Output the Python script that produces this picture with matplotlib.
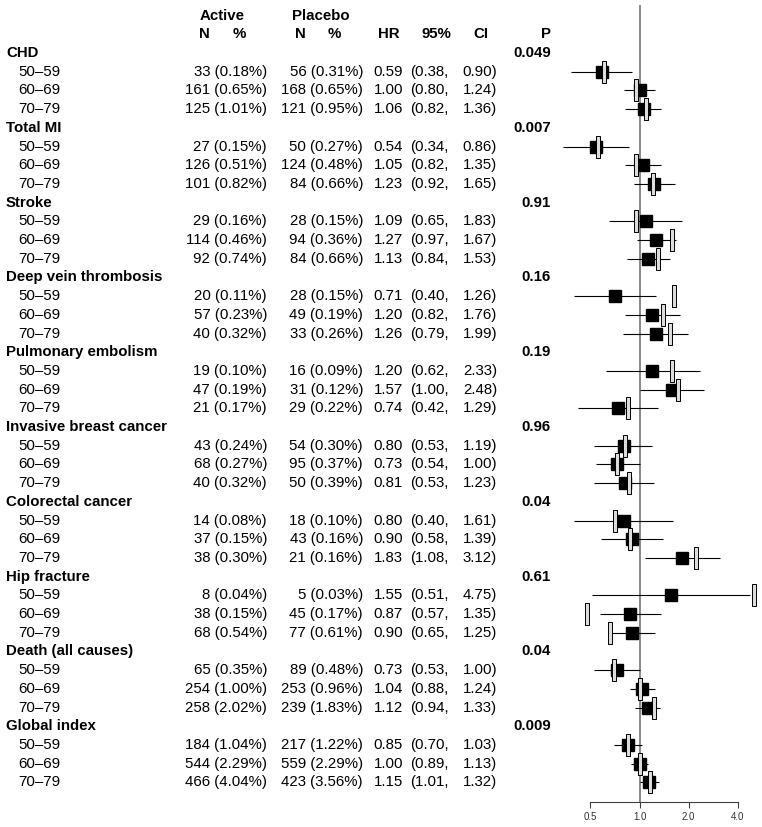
import matplotlib
matplotlib.use("Agg")
import matplotlib.pyplot as plt
import numpy as np
from matplotlib.path import Path
from matplotlib.ticker import FixedLocator, NullLocator

plt.rcParams["font.family"] = ["Liberation Sans", "DejaVu Sans"]

groups = ["CHD", "Total MI", "Stroke", "Deep vein thrombosis", "Pulmonary embolism",
          "Invasive breast cancer", "Colorectal cancer", "Hip fracture",
          "Death (all causes)", "Global index"]
ages = ["50–59", "60–69", "70–79"]
p_values = ["0.049", "0.007", "0.91", "0.16", "0.19", "0.96", "0.04", "0.61", "0.04", "0.009"]

active_n = [33, 161, 125, 27, 126, 101, 29, 114, 92, 20, 57, 40, 19, 47, 21,
            43, 68, 40, 14, 37, 38, 8, 38, 68, 65, 254, 258, 184, 544, 466]
active_pct = [0.18, 0.65, 1.01, 0.15, 0.51, 0.82, 0.16, 0.46, 0.74, 0.11, 0.23, 0.32,
              0.10, 0.19, 0.17, 0.24, 0.27, 0.32, 0.08, 0.15, 0.30, 0.04, 0.15, 0.54,
              0.35, 1.00, 2.02, 1.04, 2.29, 4.04]
placebo_n = [56, 168, 121, 50, 124, 84, 28, 94, 84, 28, 49, 33, 16, 31, 29,
             54, 95, 50, 18, 43, 21, 5, 45, 77, 89, 253, 239, 217, 559, 423]
placebo_pct = [0.31, 0.65, 0.95, 0.27, 0.48, 0.66, 0.15, 0.36, 0.66, 0.15, 0.19, 0.26,
               0.09, 0.12, 0.22, 0.30, 0.37, 0.39, 0.10, 0.16, 0.16, 0.03, 0.17, 0.61,
               0.48, 0.96, 1.83, 1.22, 2.29, 3.56]
hr = [0.59, 1.00, 1.06, 0.54, 1.05, 1.23, 1.09, 1.27, 1.13, 0.71, 1.20, 1.26,
      1.20, 1.57, 0.74, 0.80, 0.73, 0.81, 0.80, 0.90, 1.83, 1.55, 0.87, 0.90,
      0.73, 1.04, 1.12, 0.85, 1.00, 1.15]
ci_lo = [0.38, 0.80, 0.82, 0.34, 0.82, 0.92, 0.65, 0.97, 0.84, 0.40, 0.82, 0.79,
         0.62, 1.00, 0.42, 0.53, 0.54, 0.53, 0.40, 0.58, 1.08, 0.51, 0.57, 0.65,
         0.53, 0.88, 0.94, 0.70, 0.89, 1.01]
ci_hi = [0.90, 1.24, 1.36, 0.86, 1.35, 1.65, 1.83, 1.67, 1.53, 1.26, 1.76, 1.99,
         2.33, 2.48, 1.29, 1.19, 1.00, 1.23, 1.61, 1.39, 3.12, 4.75, 1.35, 1.25,
         1.00, 1.24, 1.33, 1.03, 1.13, 1.32]
# open bars (comparison estimate)
ref_est = [0.61, 0.95, 1.09, 0.56, 0.955, 1.21, 0.955, 1.57, 1.29, 1.63, 1.40, 1.53,
           1.57, 1.71, 0.85, 0.82, 0.73, 0.86, 0.71, 0.87, 2.23, 5.0, 0.477, 0.66,
           0.70, 1.01, 1.22, 0.848, 1.00, 1.16]
x_ticks = [0.5, 1.0, 2.0, 4.0]
x_ticklabels = ["0.5", "1.0", "2.0", "4.0"]

W, H = 762, 827
ROW0, DY = 53.0, 18.7            # pixel y of first group row, row pitch
def prow(py):
    return (py - ROW0) / DY
YTOP, YBOT = prow(0), prow(H)
FS = 10.8

fig = plt.figure(figsize=(W / 100, H / 100), dpi=100)

# ---- table part
tab = fig.add_axes([0, 0, 1, 1])
tab.set_xlim(0, W); tab.set_ylim(YBOT, YTOP); tab.axis("off")

hdr = dict(fontsize=FS, fontweight="bold", va="center")
tab.text(222.5, -2, "Active", ha="center", **hdr)
tab.text(321, -2, "Placebo", ha="center", **hdr)
tab.text(204, -1, "N", ha="center", **hdr)
tab.text(239, -1, "%", ha="center", **hdr)
tab.text(300, -1, "N", ha="center", **hdr)
tab.text(334, -1, "%", ha="center", **hdr)
tab.text(389, -1, "HR", ha="center", **hdr)
tab.text(436, -1, "95%", ha="center", **hdr)
tab.text(481, -1, "CI", ha="center", **hdr)
tab.text(551, -1, "P", ha="right", **hdr)

rows = []
for gi, g in enumerate(groups):
    r0 = 4 * gi
    tab.text(6, r0, g, ha="left", **hdr)
    tab.text(551, r0, p_values[gi], ha="right", **hdr)
    for ai, a in enumerate(ages):
        k = 3 * gi + ai
        r = r0 + 1 + ai
        rows.append(r)
        kw = dict(fontsize=FS, va="center")
        tab.text(18, r, a, ha="left", **kw)
        tab.text(267, r, f"{active_n[k]} ({active_pct[k]:.2f}%)", ha="right", **kw)
        tab.text(363, r, f"{placebo_n[k]} ({placebo_pct[k]:.2f}%)", ha="right", **kw)
        tab.text(403, r, f"{hr[k]:.2f}", ha="right", **kw)
        tab.text(410, r, f"({ci_lo[k]:.2f},", ha="left", **kw)
        tab.text(497, r, f"{ci_hi[k]:.2f})", ha="right", **kw)

# ---- forest part
x0 = 560
ax = fig.add_axes([x0 / W, 0, (W - x0) / W, 1])
ax.set_xscale("log", base=2)
per_doubling, x_one = 49.2, 639.5
ax.set_xlim(2 ** ((x0 - x_one) / per_doubling), 2 ** ((W - x_one) / per_doubling))
ax.set_ylim(YBOT, YTOP)
ax.patch.set_visible(False)

axis_row = prow(802)
ax.vlines(1.0, prow(5), axis_row, color="#808080", lw=1.3, zorder=1)

rows = np.array(rows)
ax.hlines(rows, ci_lo, ci_hi, color="black", lw=0.8, zorder=2)
ax.plot(hr, rows, ls="none", marker="s", ms=8.2, color="black", zorder=3)
bar = Path([(-0.17, -1), (0.17, -1), (0.17, 1), (-0.17, 1), (-0.17, -1)],
           [Path.MOVETO, Path.LINETO, Path.LINETO, Path.LINETO, Path.CLOSEPOLY])
ax.plot(ref_est, rows, ls="none", marker=bar, ms=16.5, markerfacecolor="#dcdcdc",
        markeredgecolor="black", markeredgewidth=0.7, zorder=4)

for s in ("top", "left", "right"):
    ax.spines[s].set_visible(False)
ax.spines["bottom"].set_position(("data", axis_row))
ax.spines["bottom"].set_bounds(x_ticks[0], x_ticks[-1])
ax.spines["bottom"].set_color("#404040")
ax.spines["bottom"].set_linewidth(0.8)
ax.xaxis.set_major_locator(FixedLocator(x_ticks))
ax.xaxis.set_minor_locator(NullLocator())
ax.set_xticklabels(x_ticklabels)
ax.tick_params(axis="x", direction="out", length=4, width=0.8, color="#404040",
               labelsize=7, labelcolor="#333333", pad=3)
ax.set_yticks([])

fig.savefig("out.png", dpi=100)
